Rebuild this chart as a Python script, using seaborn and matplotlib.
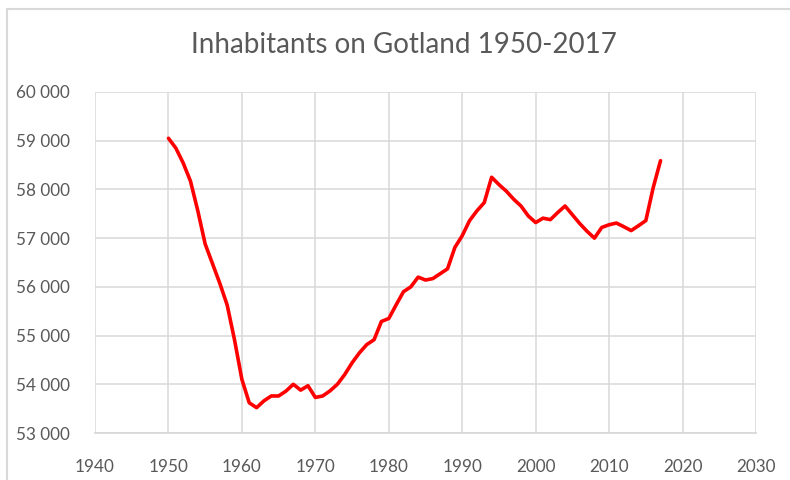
import numpy as np
import pandas as pd
import matplotlib
matplotlib.use("Agg")
import matplotlib.pyplot as plt
import matplotlib.patches as patches
from matplotlib.ticker import FuncFormatter
import seaborn as sns

# inhabitants on Gotland
years = list(range(1950, 2018))
inhabitants = [
    59050, 58850, 58545, 58170, 57560, 56880, 56475, 56070, 55625, 54910,
    54100, 53620, 53520, 53660, 53760, 53760, 53860, 54000, 53880, 53970,
    53730, 53760, 53865, 54000, 54200, 54440, 54645, 54815, 54915, 55290,
    55350, 55630, 55900, 56000, 56200, 56140, 56170, 56270, 56370, 56810,
    57050, 57360, 57560, 57730, 58250, 58100, 57965, 57800, 57660, 57455,
    57320, 57410, 57380, 57525, 57660, 57480, 57300, 57140, 57000, 57220,
    57275, 57310, 57235, 57155, 57255, 57360, 58035, 58590,
]
x_ticks = list(range(1940, 2031, 10))
y_ticks = list(range(53000, 60001, 1000))

df = pd.DataFrame({"year": years, "inhabitants": inhabitants})

sns.set_theme(style="white")
plt.rcParams["font.family"] = ["Lato", "DejaVu Sans"]

text_col = "#595959"
grid_col = "#d9d9d9"

fig = plt.figure(figsize=(7.9, 4.8), dpi=100)
ax = fig.add_axes([95 / 790, 1 - 433 / 480, (756 - 95) / 790, (433 - 92) / 480])

sns.lineplot(data=df, x="year", y="inhabitants", ax=ax, color="#ff0000",
             linewidth=2.6, solid_joinstyle="round", solid_capstyle="round")

ax.set_xlim(1940, 2030)
ax.set_ylim(53000, 60000)
ax.set_xticks(x_ticks)
ax.set_yticks(y_ticks)
ax.yaxis.set_major_formatter(FuncFormatter(lambda v, p: f"{int(v):,}".replace(",", " ")))
ax.grid(True, color=grid_col, linewidth=1.1)
ax.set_axisbelow(True)
for s in ["top", "right", "left"]:
    ax.spines[s].set_visible(False)
ax.spines["bottom"].set_color(grid_col)
ax.spines["bottom"].set_linewidth(1.3)
ax.tick_params(axis="both", length=0, labelsize=12.3, colors=text_col)
ax.tick_params(axis="x", pad=19)
ax.tick_params(axis="y", pad=18)
ax.set_xlabel("")
ax.set_ylabel("")

fig.text(0.511, 1 - 45 / 480, "Inhabitants on Gotland 1950-2017", ha="center", va="center",
         fontsize=20, color=text_col)

# chart frame
frame = patches.Rectangle((7 / 790, -0.1), 1.2, 1.1 - 9 / 480, transform=fig.transFigure,
                          fill=False, edgecolor=grid_col, linewidth=1.5)
fig.patches.append(frame)

fig.savefig("out.png", dpi=100)
